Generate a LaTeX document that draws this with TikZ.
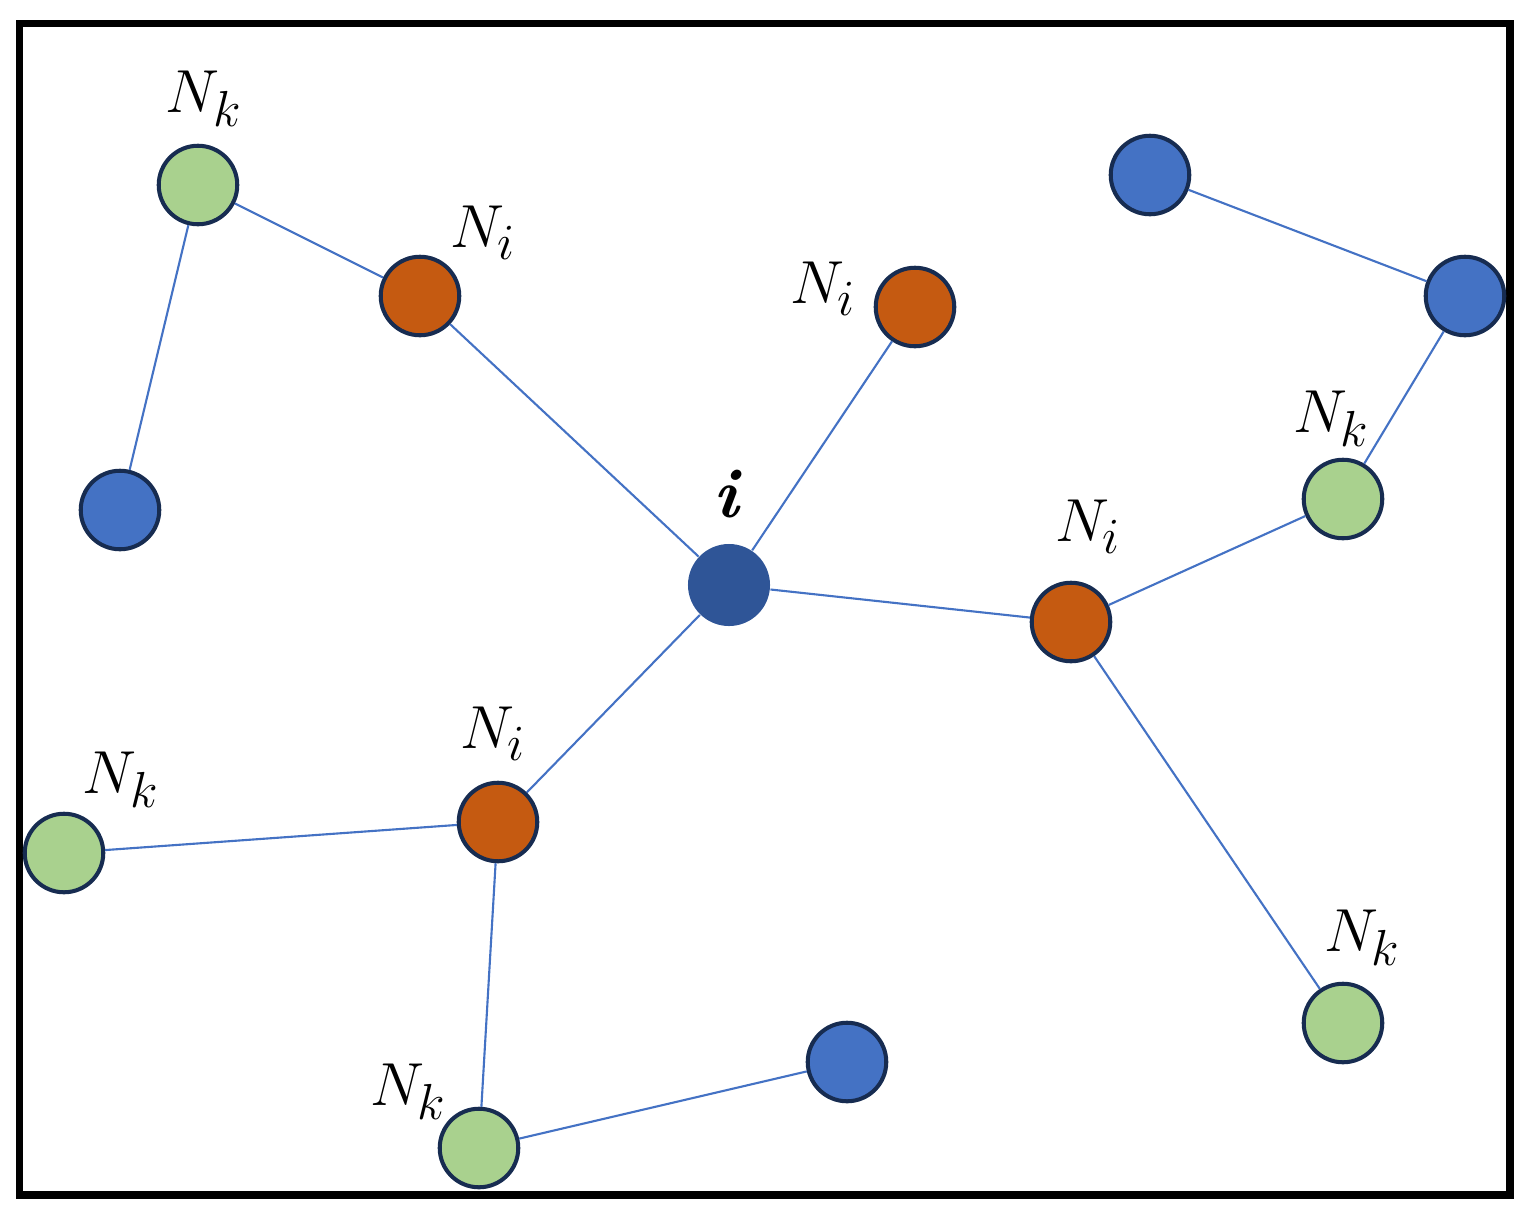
\documentclass[tikz,border=0pt]{standalone}
\definecolor{gfill}{HTML}{A9D18E}
\definecolor{ofill}{HTML}{C55A11}
\definecolor{bfill}{HTML}{4472C4}
\definecolor{cfill}{HTML}{2F5597}
\definecolor{nbord}{HTML}{172C51}
\definecolor{edgec}{HTML}{4472C4}
\newcommand{\lbl}[2]{\fontsize{19}{20}\selectfont$#1_{#2}$}
\begin{document}
\begin{tikzpicture}[x=0.01cm,y=-0.01cm,
  vtx/.style={circle,draw=nbord,line width=1.15pt,minimum size=0.785cm,inner sep=0pt},
  gnode/.style={vtx,fill=gfill},
  onode/.style={vtx,fill=ofill},
  bnode/.style={vtx,fill=bfill},
  cnode/.style={circle,fill=cfill,minimum size=0.82cm,inner sep=0pt},
  lab/.style={anchor=base west,inner sep=0pt,outer sep=0pt},
  edge/.style={draw=edgec,line width=0.6pt}]
\useasboundingbox (0,0) rectangle (1529,1211);
\draw[line width=2pt] (19.5,23.5) rectangle (1510,1195);
% nodes
\node[gnode] (g1) at (198,185) {};
\node[onode] (o1) at (420,296) {};
\node[bnode] (b1) at (120,510) {};
\node[onode] (o2) at (915,307) {};
\node[cnode] (c) at (729,585) {};
\node[bnode] (b2) at (1150,175) {};
\node[bnode] (b3) at (1465,296) {};
\node[gnode] (g2) at (1343,499) {};
\node[onode] (o3) at (1071,622) {};
\node[gnode] (g3) at (64,853) {};
\node[onode] (o4) at (498,822) {};
\node[gnode] (g4) at (479,1148) {};
\node[bnode] (b4) at (847,1062) {};
\node[gnode] (g5) at (1343,1023) {};
% edges
\draw[edge] (g1) -- (o1);
\draw[edge] (g1) -- (b1);
\draw[edge] (o1) -- (c);
\draw[edge] (o2) -- (c);
\draw[edge] (c) -- (o3);
\draw[edge] (c) -- (o4);
\draw[edge] (o3) -- (g2);
\draw[edge] (g2) -- (b3);
\draw[edge] (b3) -- (b2);
\draw[edge] (o3) -- (g5);
\draw[edge] (o4) -- (g3);
\draw[edge] (o4) -- (g4);
\draw[edge] (g4) -- (b4);
% labels
\node[lab] (lg1) at (166,112) {\lbl{N}{k}};
\node[lab] (lo1) at (450,247) {\lbl{N}{i}};
\node[lab] (lo2) at (790,303) {\lbl{N}{i}};
\node[anchor=base,inner sep=0pt] (lc) at (728,517) {\fontsize{20}{20}\selectfont\textbf{\textit{i}}};
\node[lab] (lg2) at (1293,432) {\lbl{N}{k}};
\node[lab] (lo3) at (1055,541) {\lbl{N}{i}};
\node[lab] (lg3) at (83,793) {\lbl{N}{k}};
\node[lab] (lo4) at (460,748) {\lbl{N}{i}};
\node[lab] (lg4) at (370,1105) {\lbl{N}{k}};
\node[lab] (lg5) at (1324,951) {\lbl{N}{k}};
\end{tikzpicture}
\end{document}
